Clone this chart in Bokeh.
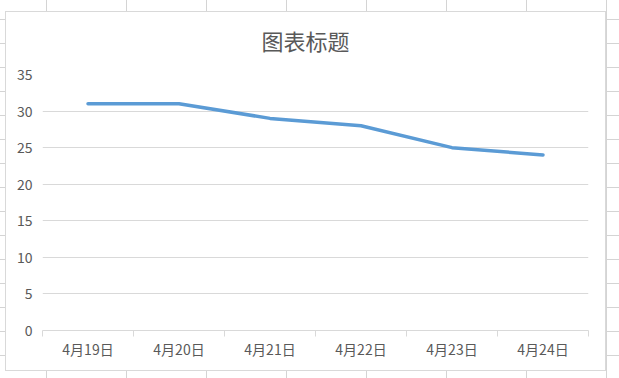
from bokeh.plotting import figure
from bokeh.models import FixedTicker, Range1d
from bokeh.embed import file_html
from bokeh.resources import INLINE

# ---- data ----
categories = ["4月19日", "4月20日", "4月21日", "4月22日", "4月23日", "4月24日"]
values = [31, 31, 29, 28, 25, 24]
y_ticks = [0, 5, 10, 15, 20, 25, 30, 35]
title_text = "图表标题"

FONT = "Noto Sans CJK SC"
TXT = "#595959"
GRID = "#d9d9d9"

xs = [i + 0.5 for i in range(len(categories))]

p = figure(width=619, height=378, output_backend="svg", toolbar_location=None,
           x_range=Range1d(0, len(categories)), y_range=Range1d(0, 35),
           title=title_text,
           min_border_left=42, min_border_right=31, min_border_top=74, min_border_bottom=48)

p.border_fill_color = None
p.background_fill_color = None
p.outline_line_color = None

p.title.align = "left"
p.title.offset = 219
p.title.standoff = 38
p.title.text_font = FONT
p.title.text_font_size = "22px"
p.title.text_font_style = "normal"
p.title.text_color = TXT

p.line(xs, values, line_color="#5B9BD5", line_width=3.5, line_cap="round", line_join="round")

# x axis: labels at category centres, ticks at category boundaries
xax = p.xaxis[0]
xax.ticker = FixedTicker(ticks=xs, minor_ticks=list(range(len(categories) + 1)))
xax.major_label_overrides = {x: c for x, c in zip(xs, categories)}
xax.major_tick_line_color = None
xax.major_tick_out = 0
xax.major_tick_in = 0
xax.minor_tick_line_color = GRID
xax.minor_tick_out = 6
xax.minor_tick_in = 0
xax.axis_line_color = GRID
xax.major_label_standoff = 2
xax.major_label_text_font = FONT
xax.major_label_text_font_size = "14px"
xax.major_label_text_color = TXT

yax = p.yaxis[0]
yax.ticker = FixedTicker(ticks=y_ticks)
yax.axis_line_color = None
yax.major_tick_line_color = None
yax.minor_tick_line_color = None
yax.major_tick_out = 0
yax.major_label_standoff = 10
yax.major_label_text_font = FONT
yax.major_label_text_font_size = "14px"
yax.major_label_text_color = TXT

p.xgrid.grid_line_color = None
p.ygrid.grid_line_color = GRID
p.ygrid.ticker = FixedTicker(ticks=y_ticks)

# spreadsheet background with the chart box
p.styles = {
    "background-color": "#ffffff",
    "background-image": "linear-gradient(#ffffff,#ffffff), linear-gradient(#d9d9d9,#d9d9d9), "
                        "linear-gradient(to right, #d4d4d4 1px, transparent 1px), "
                        "linear-gradient(to bottom, #d4d4d4 1px, transparent 1px)",
    "background-position": "6px 12px, 5px 11px, 46px 0px, 0px 19px",
    "background-size": "599px 358px, 601px 360px, 80px 100%, 100% 24px",
    "background-repeat": "no-repeat, no-repeat, repeat-x, repeat-y",
}

open("out.html", "w").write(file_html(p, INLINE))
